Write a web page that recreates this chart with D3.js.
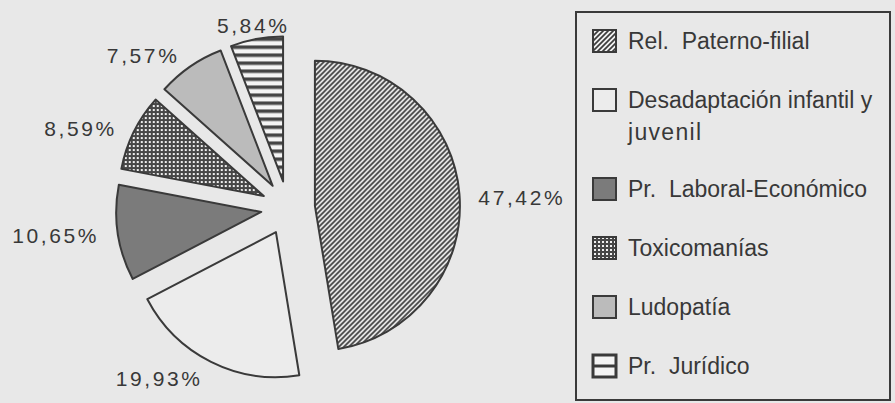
<!DOCTYPE html>
<html>
<head>
<meta charset="utf-8">
<script src="https://cdn.jsdelivr.net/npm/d3@7"></script>
<style>
  body { margin: 0; background: #e8e8e8; }
  svg { display: block; }
  text { font-family: "Liberation Sans", Arial, sans-serif; fill: #383838; }
</style>
</head>
<body>
<script>
// data
var categories = ["Rel.  Paterno-filial", "Desadaptación infantil y juvenil", "Pr.  Laboral-Económico",
                  "Toxicomanías", "Ludopatía", "Pr.  Jurídico"];
var values = [47.42, 19.93, 10.65, 8.59, 7.57, 5.84];
var legendLines = [["Rel.  Paterno-filial"], ["Desadaptación infantil y", "juvenil"], ["Pr.  Laboral-Económico"],
                   ["Toxicomanías"], ["Ludopatía"], ["Pr.  Jurídico"]];
var fills = ["url(#hatch)", "#ececec", "#7b7b7b", "url(#dots)", "#bbbbbb", "url(#stripes)"];

var width = 895, height = 403;
var ink = "#3a3a3a";

var svg = d3.select("body").append("svg")
    .attr("width", width)
    .attr("height", height);

//patterns
var defs = svg.append("defs");
var hatch = defs.append("pattern").attr("id", "hatch")
    .attr("patternUnits", "userSpaceOnUse").attr("width", 5).attr("height", 5);
hatch.append("rect").attr("width", 5).attr("height", 5).attr("fill", "#f0f0f0");
hatch.append("path").attr("d", "M-1,6 L6,-1 M-1,1 L1,-1 M4,6 L6,4")
    .attr("stroke", "#3c3c3c").attr("stroke-width", 1.7);

var dots = defs.append("pattern").attr("id", "dots")
    .attr("patternUnits", "userSpaceOnUse").attr("width", 4).attr("height", 4);
dots.append("rect").attr("width", 4).attr("height", 4).attr("fill", "#474747");
dots.append("rect").attr("x", 1).attr("y", 1).attr("width", 2).attr("height", 2).attr("fill", "#f0f0f0");

var stripes = defs.append("pattern").attr("id", "stripes")
    .attr("patternUnits", "userSpaceOnUse").attr("width", 8).attr("height", 8);
stripes.append("rect").attr("width", 8).attr("height", 8).attr("fill", "#f4f4f4");
stripes.append("rect").attr("y", 0).attr("width", 8).attr("height", 3.5).attr("fill", "#454545");

//pie
var cx = 288, cy = 208, radius = 145, explode = 27;

var pie = d3.pie().sort(null).value(function(d){ return d; });
var arc = d3.arc().innerRadius(0).outerRadius(radius);
var arcs = pie(values);

var fmt = function(v){ return v.toFixed(2).replace(".", ",") + "%"; };

var g = svg.append("g").attr("transform", "translate(" + cx + "," + cy + ")");

var slices = g.selectAll(".slice")
    .data(arcs)
    .enter()
    .append("g")
    .attr("class", "slice")
    .attr("transform", function(d){
        var a = (d.startAngle + d.endAngle) / 2;
        return "translate(" + (Math.sin(a) * explode) + "," + (-Math.cos(a) * explode) + ")";
    });

slices.append("path")
    .attr("d", arc)
    .attr("fill", function(d, i){ return fills[i]; })
    .attr("stroke", ink)
    .attr("stroke-width", 2)
    .attr("stroke-linejoin", "round");

var labelR = radius + 19;
slices.append("text")
    .attr("x", function(d){ return Math.sin((d.startAngle + d.endAngle) / 2) * labelR; })
    .attr("y", function(d){ return -Math.cos((d.startAngle + d.endAngle) / 2) * labelR; })
    .attr("dy", function(d){
        // upper labels sit a little lower in the original
        return -Math.cos((d.startAngle + d.endAngle) / 2) > 0 ? "0.35em" : "0.6em";
    })
    .attr("text-anchor", function(d){
        var s = Math.sin((d.startAngle + d.endAngle) / 2);
        return s > 0.3 ? "start" : (s < -0.3 ? "end" : "middle");
    })
    .style("font-size", "21px")
    .style("letter-spacing", "2.6px")
    .text(function(d){ return fmt(d.data); });

//legend
var box = { x: 576, y: 12, w: 314, h: 388 };
svg.append("rect")
    .attr("x", box.x).attr("y", box.y)
    .attr("width", box.w).attr("height", box.h)
    .attr("fill", "none")
    .attr("stroke", ink)
    .attr("stroke-width", 2);

var lineGap = 32;
var rowY = [];
var yy = 41;
legendLines.forEach(function(lines){
    rowY.push(yy);
    yy += 59 + (lines.length - 1) * (lineGap - 2);
});

var items = svg.selectAll(".item")
    .data(categories)
    .enter()
    .append("g")
    .attr("class", "item")
    .attr("transform", function(d, i){ return "translate(" + (box.x + 17) + "," + rowY[i] + ")"; });

items.append("rect")
    .attr("x", 0).attr("y", -11)
    .attr("width", 23).attr("height", 22)
    .attr("fill", function(d, i){ return fills[i] === "url(#stripes)" ? "#f4f4f4" : fills[i]; })
    .attr("stroke", ink)
    .attr("stroke-width", function(d, i){ return i === 5 ? 3 : 2; });

items.filter(function(d, i){ return i === 5; })
    .append("line")
    .attr("x1", 0).attr("x2", 23).attr("y1", 0).attr("y2", 0)
    .attr("stroke", ink).attr("stroke-width", 3);

items.each(function(d, i){
    var item = d3.select(this);
    legendLines[i].forEach(function(line, j){
        item.append("text")
            .attr("x", 35)
            .attr("y", j * lineGap)
            .attr("dy", "0.36em")
            .attr("xml:space", "preserve")
            .style("font-size", "23px")
            .style("white-space", "pre")
            .style("letter-spacing", i === 1 && j === 1 ? "1.3px" : "0px")
            .text(line);
    });
});
</script>
</body>
</html>
